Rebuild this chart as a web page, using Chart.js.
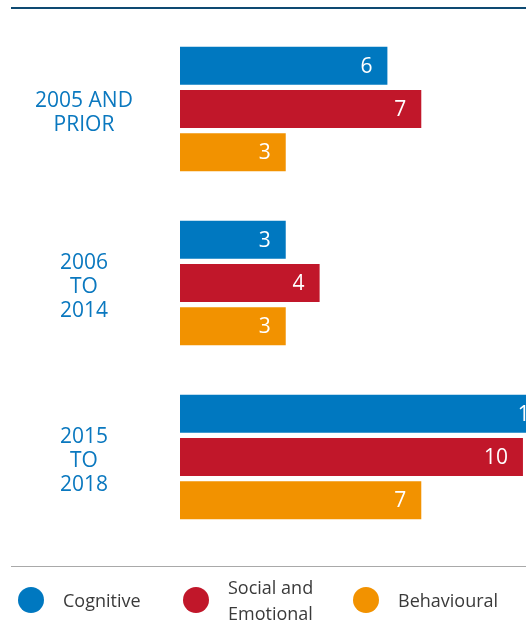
<!DOCTYPE html>
<html><head><meta charset="utf-8">
<script src="https://cdn.jsdelivr.net/npm/chart.js@4/dist/chart.umd.min.js"></script>
<style>
html,body{margin:0;padding:0;background:#fff;}
#wrap{position:relative;width:526px;height:626px;overflow:hidden;font-family:"Open Sans",sans-serif;}
#c{position:absolute;left:0;top:0;}
.topline{position:absolute;left:11px;top:7px;width:515px;height:2px;background:#0e4a72;}
.botline{position:absolute;left:11px;top:566px;width:515px;height:1px;background:#a9a9a9;}
.leg{position:absolute;display:flex;align-items:center;color:#3a3a3a;font-size:18px;line-height:26px;}
.dot{width:26px;height:26px;border-radius:50%;margin-right:19px;flex:none;}
</style></head>
<body><div id="wrap">
<div class="topline"></div>
<canvas id="c" width="526" height="626"></canvas>
<div class="botline"></div>
<div id="legend"></div>
</div>
<script>
const categories = [["2005 AND","PRIOR"],["2006","TO","2014"],["2015","TO","2018"]];
const seriesNames = ["Cognitive", "Social and\nEmotional", "Behavioural"];
const cognitive = [6, 3, 11];
const socialEmotional = [7, 4, 10];
const behavioural = [3, 3, 7];
const colors = ["#0078c0", "#c1172a", "#f29200"];

const seriesData = [cognitive, socialEmotional, behavioural];

// HTML legend
const legendPos = [18, 183, 353];
const legendEl = document.getElementById('legend');
seriesNames.forEach((n, i) => {
  const d = document.createElement('div');
  d.className = 'leg';
  d.style.left = legendPos[i] + 'px';
  d.style.top = '574px';
  d.style.height = '52px';
  const dot = document.createElement('div');
  dot.className = 'dot';
  dot.style.background = colors[i];
  const t = document.createElement('div');
  t.innerHTML = n.replace('\n', '<br>');
  d.appendChild(dot); d.appendChild(t);
  legendEl.appendChild(d);
});

const labelPlugin = {
  id: 'labels',
  afterDatasetsDraw(chart) {
    const ctx = chart.ctx;
    const yScale = chart.scales.y;
    const xScale = chart.scales.x;
    ctx.save();
    // category labels
    ctx.fillStyle = '#0a78bf';
    ctx.font = '21px "Open Sans"';
    ctx.textAlign = 'center';
    ctx.textBaseline = 'middle';
    chart.data.labels.forEach((lab, i) => {
      const yc = yScale.getPixelForValue(i);
      const lh = 24;
      const n = lab.length;
      lab.forEach((line, j) => {
        ctx.fillText(line, 84, yc + (j - (n - 1) / 2) * lh + 4);
      });
    });
    // value labels
    ctx.fillStyle = '#ffffff';
    ctx.textAlign = 'right';
    chart.data.datasets.forEach((ds, di) => {
      const meta = chart.getDatasetMeta(di);
      meta.data.forEach((bar, i) => {
        const x = xScale.getPixelForValue(ds.data[i]);
        ctx.fillText(String(ds.data[i]), x - 15, bar.y + 1);
      });
    });
    ctx.restore();
  }
};

new Chart(document.getElementById('c'), {
  type: 'bar',
  data: {
    labels: categories,
    datasets: seriesData.map((d, i) => ({
      label: seriesNames[i],
      data: d,
      backgroundColor: colors[i],
      base: -0.12,
      borderWidth: 0,
      categoryPercentage: 0.745,
      barPercentage: 0.88
    }))
  },
  options: {
    indexAxis: 'y',
    responsive: false,
    animation: false,
    layout: { padding: { left: 180, right: 0, top: 22, bottom: 82 } },
    plugins: { legend: { display: false }, tooltip: { enabled: false } },
    scales: {
      x: { display: false, min: -0.12, max: 10.09 },
      y: { display: false }
    }
  },
  plugins: [labelPlugin]
});
</script>
</body></html>
